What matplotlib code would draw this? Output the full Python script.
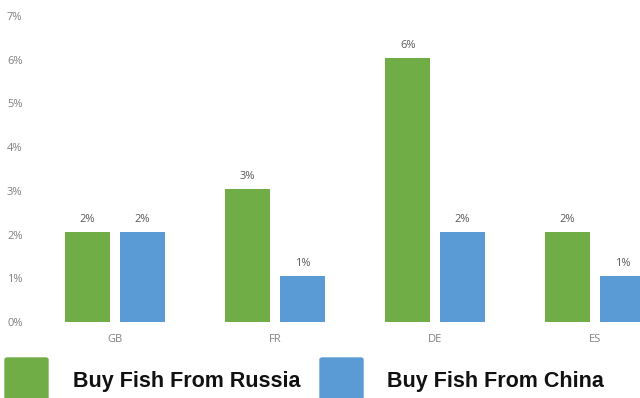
import matplotlib
matplotlib.use("Agg")
import matplotlib.pyplot as plt
from matplotlib.patches import FancyBboxPatch
import numpy as np

categories = ["GB", "FR", "DE", "ES"]
russia = [2.05, 3.05, 6.05, 2.05]
china = [2.05, 1.05, 2.05, 1.05]
series_names = ["Buy Fish From Russia", "Buy Fish From China"]
yticks = [0, 1, 2, 3, 4, 5, 6, 7]

GREEN = "#70AD47"
BLUE = "#5B9BD5"

W, H = 640, 398
fig = plt.figure(figsize=(W / 100, H / 100), dpi=100)
ax = fig.add_axes([35 / W, 1 - 322 / H, 640 / W, 306 / H])

x = np.arange(len(categories))
bw = 0.28
off = 0.171
b1 = ax.bar(x - off, russia, bw, color=GREEN, zorder=2)
b2 = ax.bar(x + off, china, bw, color=BLUE, zorder=2)

for bars, vals in ((b1, russia), (b2, china)):
    for rect, v in zip(bars, vals):
        ax.annotate(f"{v:.0f}%", (rect.get_x() + rect.get_width() / 2, v),
                    xytext=(0, 5), textcoords="offset points",
                    ha="center", va="bottom", fontsize=8,
                    family="Open Sans", color="#595959")

ax.set_xlim(-0.5, len(categories) - 0.5)
ax.set_ylim(0, 7)
ax.set_xticks(x)
ax.set_xticklabels(categories, family="Open Sans", fontsize=8, color="#808080")
ax.set_yticks(yticks)
ax.set_yticklabels([f"{t}%" for t in yticks], family="Open Sans", fontsize=8, color="#808080")
ax.tick_params(axis="both", length=0)
ax.tick_params(axis="y", pad=9)
ax.tick_params(axis="x", pad=8.5)
for s in ax.spines.values():
    s.set_visible(False)
ax.patch.set_alpha(0)

# Legend
for (x0, col, txt, tx) in ((5, GREEN, series_names[0], 73), (320, BLUE, series_names[1], 387)):
    p = FancyBboxPatch((x0 / W, 0 - 0.05), 43 / W, (398 - 358) / H + 0.05,
                       boxstyle="round,pad=0,rounding_size=0.004",
                       transform=fig.transFigure, color=col, clip_on=False)
    fig.patches.append(p)
    fig.text(tx / W, 1 - 387 / H, txt, family="Liberation Sans", weight="bold",
             fontsize=15.5, color="#111111", ha="left", va="baseline")

fig.savefig("out.png", dpi=100)
